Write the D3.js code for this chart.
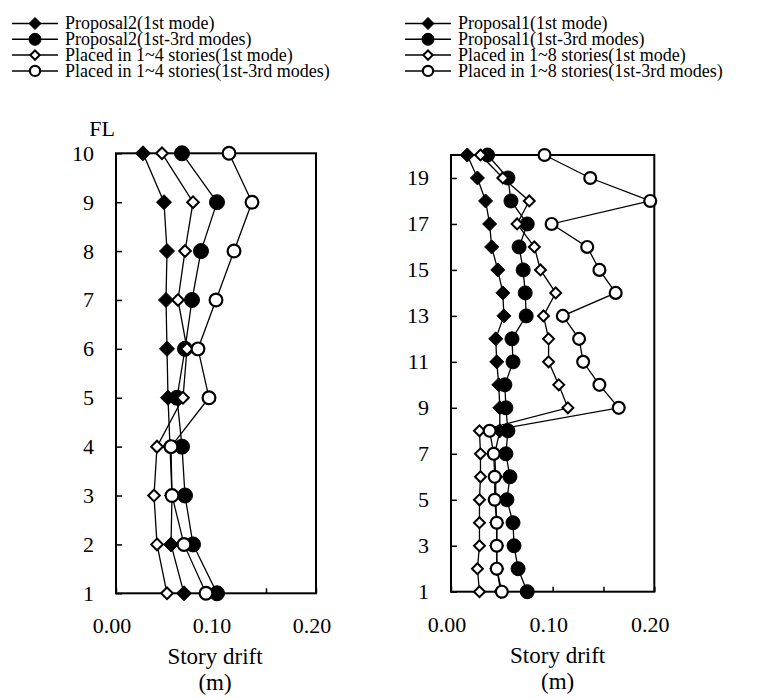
<!DOCTYPE html>
<html>
<head>
<meta charset="utf-8">
<script src="https://cdn.jsdelivr.net/npm/d3@7"></script>
<style>
  body { margin: 0; background: #fff; }
  text { font-family: "Liberation Serif", "Times New Roman", serif; fill: #000; }
</style>
</head>
<body>
<div id="chart"></div>
<script>
// Left panel: 10-storey model
const floorsLeft = [1, 2, 3, 4, 5, 6, 7, 8, 9, 10];
const leftProp2First  = [0.068, 0.055, 0.056, 0.054, 0.052, 0.051, 0.050, 0.051, 0.048, 0.027];
const leftProp2Modes  = [0.101, 0.077, 0.069, 0.066, 0.061, 0.069, 0.076, 0.085, 0.101, 0.066];
const leftPlacedFirst = [0.051, 0.041, 0.038, 0.041, 0.067, 0.071, 0.062, 0.069, 0.077, 0.046];
const leftPlacedModes = [0.090, 0.068, 0.056, 0.055, 0.093, 0.082, 0.100, 0.118, 0.136, 0.113];
const legendLeft = [
    "Proposal2(1st mode)",
    "Proposal2(1st-3rd modes)",
    "Placed in 1~4 stories(1st mode)",
    "Placed in 1~4 stories(1st-3rd modes)"
];

// Right panel: 20-storey model
const floorsRight = [1, 2, 3, 4, 5, 6, 7, 8, 9, 10, 11, 12, 13, 14, 15, 16, 17, 18, 19, 20];
const rightProp1First  = [0.049, 0.045, 0.045, 0.045, 0.044, 0.044, 0.043, 0.048, 0.048, 0.047,
                          0.045, 0.044, 0.052, 0.051, 0.046, 0.040, 0.038, 0.034, 0.026, 0.016];
const rightProp1Modes  = [0.075, 0.066, 0.062, 0.061, 0.055, 0.058, 0.054, 0.056, 0.054, 0.053,
                          0.061, 0.060, 0.074, 0.073, 0.071, 0.067, 0.075, 0.059, 0.056, 0.036];
const rightPlacedFirst = [0.028, 0.026, 0.028, 0.028, 0.028, 0.029, 0.029, 0.028, 0.115, 0.106,
                          0.096, 0.096, 0.091, 0.103, 0.088, 0.082, 0.065, 0.077, 0.051, 0.029];
const rightPlacedModes = [0.050, 0.045, 0.045, 0.045, 0.043, 0.043, 0.042, 0.038, 0.165, 0.146,
                          0.130, 0.126, 0.110, 0.162, 0.146, 0.134, 0.099, 0.196, 0.137, 0.092];
const legendRight = [
    "Proposal1(1st mode)",
    "Proposal1(1st-3rd modes)",
    "Placed in 1~8 stories(1st mode)",
    "Placed in 1~8 stories(1st-3rd modes)"
];

const xTickValues = [0, 0.05, 0.10, 0.15, 0.20];
const xLabelValues = [0, 0.10, 0.20];
const yTicksLeft = [1, 2, 3, 4, 5, 6, 7, 8, 9, 10];
const yTicksRight = [1, 3, 5, 7, 9, 11, 13, 15, 17, 19];
const xTitle = ["Story drift", "(m)"];

// marker kinds, in legend order
const kinds = ["diamond", "circle", "openDiamond", "openCircle"];

const svg = d3.select("#chart")
    .append("svg")
    .attr("width", 761)
    .attr("height", 698);

function drawMarker(g, kind, x, y, size) {
    if (kind === "diamond" || kind === "openDiamond") {
        const r = kind === "diamond" ? size : size * 0.78;
        g.append("path")
            .attr("d", `M${x},${y - r}L${x + r},${y}L${x},${y + r}L${x - r},${y}Z`)
            .attr("fill", kind === "diamond" ? "#000" : "#fff")
            .attr("stroke", "#000")
            .attr("stroke-width", kind === "diamond" ? 1 : 2);
    } else {
        const r = kind === "circle" ? size : size * 0.85;
        g.append("circle")
            .attr("cx", x)
            .attr("cy", y)
            .attr("r", r)
            .attr("fill", kind === "circle" ? "#000" : "#fff")
            .attr("stroke", "#000")
            .attr("stroke-width", kind === "circle" ? 1 : 2.2);
    }
}

function drawPanel(opt) {
    const x = d3.scaleLinear().domain([0, 0.2]).range([opt.left, opt.right]);
    const y = d3.scaleLinear().domain(opt.yDomain).range([opt.bottom, opt.top]);
    const g = svg.append("g");

    // frame
    g.append("rect")
        .attr("x", opt.left)
        .attr("y", opt.top)
        .attr("width", opt.right - opt.left)
        .attr("height", opt.bottom - opt.top)
        .attr("fill", "none")
        .attr("stroke", "#000")
        .attr("stroke-width", 2);

    // y ticks (inside)
    g.append("g")
        .attr("transform", `translate(${opt.left},0)`)
        .call(d3.axisRight(y).tickValues(opt.yTicks).tickSize(6).tickFormat(""))
        .call(a => a.select(".domain").remove())
        .selectAll("line").attr("stroke-width", 1.5);

    g.selectAll(".ylab")
        .data(opt.yTicks)
        .enter()
        .append("text")
        .attr("x", opt.left - 22)
        .attr("y", d => y(d))
        .attr("dy", "0.34em")
        .attr("text-anchor", "end")
        .style("font-size", "22px")
        .text(d => d);

    // x ticks (inside)
    g.append("g")
        .attr("transform", `translate(0,${opt.bottom})`)
        .call(d3.axisTop(x).tickValues(xTickValues).tickSize(5).tickFormat(""))
        .call(a => a.select(".domain").remove())
        .selectAll("line").attr("stroke-width", 1.5);

    g.selectAll(".xlab")
        .data(xLabelValues)
        .enter()
        .append("text")
        .attr("x", d => x(d) - 4)
        .attr("y", opt.bottom + 40)
        .attr("text-anchor", "middle")
        .style("font-size", "22px")
        .text(d => d3.format(".2f")(d));

    g.selectAll(".xtitle")
        .data(xTitle)
        .enter()
        .append("text")
        .attr("x", (opt.left + opt.right) / 2 + opt.titleShift)
        .attr("y", (d, i) => opt.bottom + 71 + i * 26)
        .attr("text-anchor", "middle")
        .style("font-size", "23px")
        .text(d => d);

    if (opt.yTitle) {
        g.append("text")
            .attr("x", opt.left - 1)
            .attr("y", opt.top - 17)
            .attr("text-anchor", "end")
            .style("font-size", "22px")
            .text(opt.yTitle);
    }

    const line = d3.line()
        .x(d => x(d.v))
        .y(d => y(d.fl));

    const series = opt.series.map(vals => vals.map((v, i) => ({ v, fl: opt.floors[i] })));

    // lines first, then markers on top
    series.forEach(s => {
        g.append("path")
            .attr("d", line(s))
            .attr("fill", "none")
            .attr("stroke", "#000")
            .attr("stroke-width", 1.3);
    });
    series.forEach((s, k) => {
        s.forEach(d => drawMarker(g, kinds[k], x(d.v), y(d.fl), opt.markerSize));
    });

    // legend
    const lg = svg.append("g");
    opt.legend.forEach((name, i) => {
        const ly = 23.5 + i * 15.8;
        lg.append("line")
            .attr("x1", opt.legendX)
            .attr("x2", opt.legendX + 46)
            .attr("y1", ly)
            .attr("y2", ly)
            .attr("stroke", "#000")
            .attr("stroke-width", 1.5);
        drawMarker(lg, kinds[i], opt.legendX + 23, ly, 6);
        lg.append("text")
            .attr("x", opt.legendX + 53)
            .attr("y", ly)
            .attr("dy", "0.33em")
            .style("font-size", "18px")
            .text(name);
    });
}

drawPanel({
    left: 116, right: 316, top: 153.3, bottom: 593.3,
    yDomain: [1, 10], yTicks: yTicksLeft, floors: floorsLeft,
    series: [leftProp2First, leftProp2Modes, leftPlacedFirst, leftPlacedModes],
    legend: legendLeft, legendX: 12, yTitle: "FL", titleShift: -1, markerSize: 7.5
});

drawPanel({
    left: 451, right: 654.3, top: 155, bottom: 591.7,
    yDomain: [1, 20], yTicks: yTicksRight, floors: floorsRight,
    series: [rightProp1First, rightProp1Modes, rightPlacedFirst, rightPlacedModes],
    legend: legendRight, legendX: 405, yTitle: null, titleShift: 5, markerSize: 7
});
</script>
</body>
</html>
